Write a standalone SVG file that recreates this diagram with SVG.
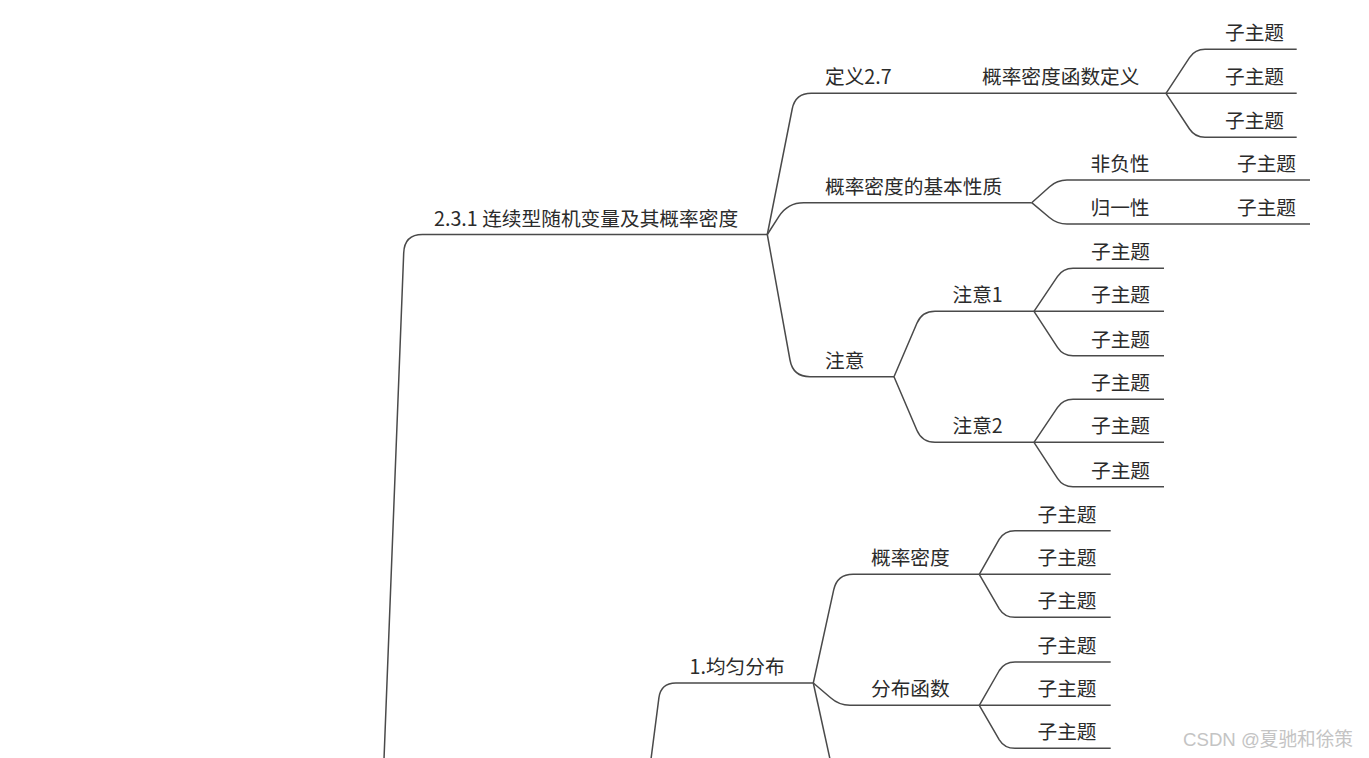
<svg xmlns="http://www.w3.org/2000/svg" width="1369" height="758" viewBox="0 0 1369 758">
<style>
.c{fill:none;stroke:#4a4a4a;stroke-width:1.5;stroke-linejoin:round}
.t{font-family:"Noto Sans CJK SC","Noto Sans",sans-serif;font-size:19.7px;fill:#2b2b2b}
.wm{font-family:"Liberation Sans","Noto Sans CJK SC",sans-serif;font-size:19px;fill:#c4c4c4}
</style>
<rect width="1369" height="758" fill="#ffffff"/>
<g id="connectors">
<path class="c" d="M382.8,790 L403.7,253 Q404.4,234.5 422.4,234.5 L767.3,234.5"/>
<path class="c" d="M767.3,234.5 L792.2,109 Q795.3,93.3 811.3,93.3 L1166,93.3"/>
<path class="c" d="M1166,93.3 L1189.5,57.6 Q1195,49.3 1205,49.3 L1296.7,49.3"/>
<path class="c" d="M1166,93.3 L1296.7,93.3"/>
<path class="c" d="M1166,93.3 L1189.5,129 Q1195,137.3 1205,137.3 L1296.7,137.3"/>
<path class="c" d="M767.3,234.5 L779.1,216.2 Q787.7,202.7 803.7,202.7 L1031.7,202.7"/>
<path class="c" d="M1031.7,202.7 L1049.6,186.7 Q1057,180 1067,180 L1310,180"/>
<path class="c" d="M1031.7,202.7 L1049.4,217.5 Q1057,224 1067,224 L1310,224"/>
<path class="c" d="M767.3,234.5 L790,360 Q793,376.7 810,376.7 L894,376.7"/>
<path class="c" d="M894,376.7 L916.9,323.3 Q922,311.3 935,311.3 L1034,311.3"/>
<path class="c" d="M894,376.7 L916.9,430.3 Q922,442.3 935,442.3 L1034,442.3"/>
<path class="c" d="M1034,311.3 L1057.4,276.6 Q1063,268.3 1073,268.3 L1164,268.3"/>
<path class="c" d="M1034,311.3 L1164,311.3"/>
<path class="c" d="M1034,311.3 L1057.5,347.3 Q1063,355.7 1073,355.7 L1164,355.7"/>
<path class="c" d="M1034,442.3 L1057.4,407.6 Q1063,399.3 1073,399.3 L1164,399.3"/>
<path class="c" d="M1034,442.3 L1164,442.3"/>
<path class="c" d="M1034,442.3 L1057.5,478.3 Q1063,486.7 1073,486.7 L1164,486.7"/>
<path class="c" d="M647,790 L658.9,697.9 Q660.8,683 675.8,683 L813.3,683"/>
<path class="c" d="M813.3,683 L833.7,589.9 Q837.1,574.3 853.1,574.3 L979.3,574.3"/>
<path class="c" d="M813.3,683 L830.6,697.8 Q839,705.3 850,705.3 L979.3,705.3"/>
<path class="c" d="M813.3,683 L834.6,780"/>
<path class="c" d="M979.3,574.3 L999.3,539.2 Q1004.5,530.7 1015,530.7 L1110.7,530.7"/>
<path class="c" d="M979.3,574.3 L1110.7,574.3"/>
<path class="c" d="M979.3,574.3 L999.3,608.8 Q1004.5,617.3 1015,617.3 L1110.7,617.3"/>
<path class="c" d="M979.3,705.3 L999.3,670.5 Q1004.5,662 1015,662 L1110.7,662"/>
<path class="c" d="M979.3,705.3 L1110.7,705.3"/>
<path class="c" d="M979.3,705.3 L999.3,739.8 Q1004.5,748.3 1015,748.3 L1110.7,748.3"/>
</g>
<g id="n-root"><text class="t" x="434" y="225.5">2.3.1 连续型随机变量及其概率密度</text></g>
<g id="n-def27"><text class="t" x="825" y="84.3">定义2.7</text></g>
<g id="n-pdfdef"><text class="t" x="982" y="84.3">概率密度函数定义</text></g>
<g id="n-s1"><text class="t" x="1225" y="40.3">子主题</text></g>
<g id="n-s2"><text class="t" x="1225" y="84.3">子主题</text></g>
<g id="n-s3"><text class="t" x="1225" y="128.3">子主题</text></g>
<g id="n-props"><text class="t" x="825" y="193.7">概率密度的基本性质</text></g>
<g id="n-nonneg"><text class="t" x="1090.5" y="171">非负性</text></g>
<g id="n-s4"><text class="t" x="1237" y="171">子主题</text></g>
<g id="n-norm"><text class="t" x="1090.5" y="215">归一性</text></g>
<g id="n-s5"><text class="t" x="1237" y="215">子主题</text></g>
<g id="n-note"><text class="t" x="825" y="367.7">注意</text></g>
<g id="n-note1"><text class="t" x="952.5" y="302.3">注意1</text></g>
<g id="n-note2"><text class="t" x="952.5" y="433.3">注意2</text></g>
<g id="n-s6"><text class="t" x="1091" y="259.3">子主题</text></g>
<g id="n-s7"><text class="t" x="1091" y="302.3">子主题</text></g>
<g id="n-s8"><text class="t" x="1091" y="346.7">子主题</text></g>
<g id="n-s9"><text class="t" x="1091" y="390.3">子主题</text></g>
<g id="n-s10"><text class="t" x="1091" y="433.3">子主题</text></g>
<g id="n-s11"><text class="t" x="1091" y="477.7">子主题</text></g>
<g id="n-uniform"><text class="t" x="689.5" y="674">1.均匀分布</text></g>
<g id="n-pdf"><text class="t" x="871" y="565.3">概率密度</text></g>
<g id="n-cdf"><text class="t" x="871" y="696.3">分布函数</text></g>
<g id="n-s12"><text class="t" x="1037.5" y="521.7">子主题</text></g>
<g id="n-s13"><text class="t" x="1037.5" y="565.3">子主题</text></g>
<g id="n-s14"><text class="t" x="1037.5" y="608.3">子主题</text></g>
<g id="n-s15"><text class="t" x="1037.5" y="653">子主题</text></g>
<g id="n-s16"><text class="t" x="1037.5" y="696.3">子主题</text></g>
<g id="n-s17"><text class="t" x="1037.5" y="739.3">子主题</text></g>
<text class="wm" x="1183" y="746" textLength="170" lengthAdjust="spacingAndGlyphs">CSDN @夏驰和徐策</text>
</svg>
